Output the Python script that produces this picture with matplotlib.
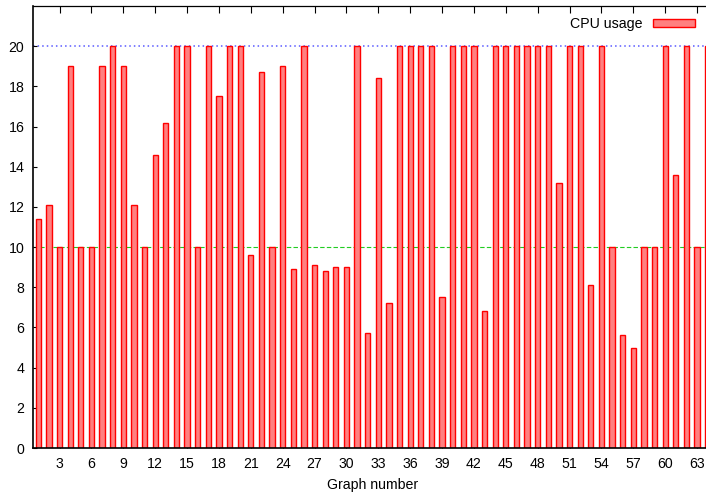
import matplotlib
matplotlib.use("Agg")
import matplotlib.pyplot as plt
import numpy as np

plt.rcParams['font.family'] = ['Liberation Sans', 'DejaVu Sans']

graph_ids = list(range(1, 65))
cpu_usage = [
    11.4, 12.1, 10, 19, 10, 10, 19, 20, 19, 12.1,
    10, 14.6, 16.2, 20, 20, 10, 20, 17.5, 20, 20,
    9.6, 18.7, 10, 19, 8.9, 20, 9.1, 8.8, 9.0, 9.0,
    20, 5.7, 18.4, 7.2, 20, 20, 20, 20, 7.5, 20,
    20, 20, 6.8, 20, 20, 20, 20, 20, 20, 13.2,
    20, 20, 8.1, 20, 10, 5.6, 5.0, 10, 10, 20,
    13.6, 20, 10, 20,
]
x_ticks = list(range(3, 64, 3))
y_ticks = list(range(0, 21, 2))
upper_limit = 20
lower_limit = 10

W, H = 706, 493
fs = 10.2
fig = plt.figure(figsize=(W / 100, H / 100), dpi=100)
# axes placed in pixels; the right border falls just outside the image
left, right, top, bottom = 33, 713, 6, 448
ax = fig.add_axes([left / W, 1 - bottom / H, (right - left) / W, (bottom - top) / H])

ax.axhline(upper_limit, color='#5a5aff', linestyle=(0, (1, 2)), linewidth=1.1, zorder=1)
ax.axhline(lower_limit, color='#22cc22', linestyle=(0, (4, 2)), linewidth=0.8, zorder=1)

ax.bar(graph_ids, cpu_usage, width=0.5, color='#ff8080', edgecolor='red',
       linewidth=1.0, label='CPU usage', zorder=2)

ax.set_xlim(0.5, 64.5)
ax.set_ylim(0, 22)
ax.set_xticks(x_ticks)
ax.set_yticks(y_ticks)
ax.tick_params(axis='x', direction='in', length=5, width=0.8, top=True, pad=6.5, labelsize=fs)
ax.tick_params(axis='y', direction='in', length=3, width=0.8, pad=6.3, labelsize=fs)
ax.set_xlabel('Graph number', fontsize=fs, labelpad=5)

for s in ['left', 'bottom']:
    ax.spines[s].set_linewidth(1.2)
ax.spines['top'].set_linewidth(0.9)
ax.spines['right'].set_visible(False)

ax.legend(loc='upper right', bbox_to_anchor=(705 / W, 1 - 7 / H), bbox_transform=fig.transFigure,
          frameon=False, markerfirst=False, fontsize=fs, handlelength=3.0, handleheight=0.5,
          handletextpad=0.7, borderaxespad=0.3)

plt.savefig('out.png', dpi=100)
